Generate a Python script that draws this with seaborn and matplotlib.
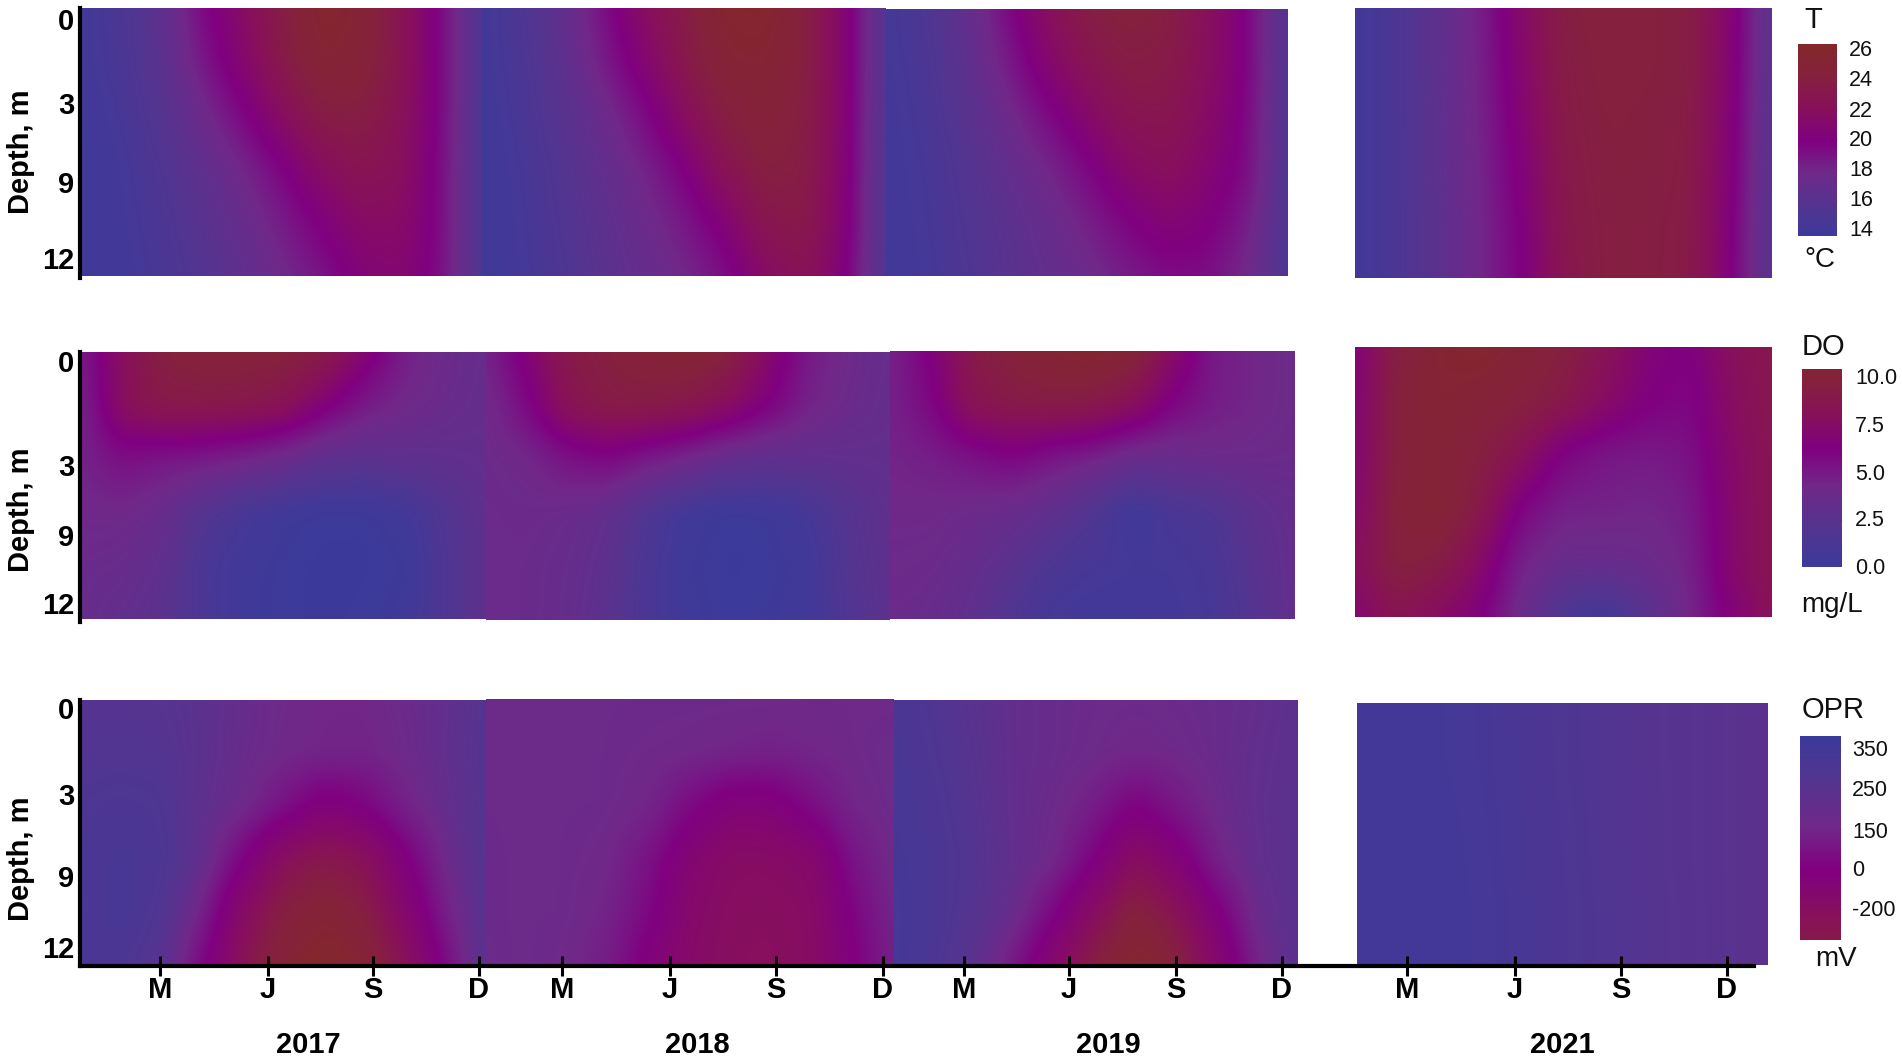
import numpy as np
import matplotlib
matplotlib.use("Agg")
import matplotlib.pyplot as plt
from matplotlib.colors import FuncNorm, LinearSegmentedColormap
import seaborn as sns

sns.set_theme(style="white")
plt.rcParams["font.family"] = ["Liberation Sans", "DejaVu Sans"]

# values: rows go down the depth, columns go through the year
T_2017 = [
    [14.2, 15.0, 16.5, 19.5, 21.6, 23.8, 26.0, 25.2, 22.8, 19.5, 15.2],
    [14.2, 14.9, 16.2, 18.8, 21.0, 23.4, 25.4, 24.9, 22.8, 19.5, 15.2],
    [14.1, 14.6, 15.8, 17.6, 19.6, 21.8, 23.8, 23.9, 22.5, 19.5, 15.1],
    [14.0, 14.4, 15.3, 16.6, 18.0, 19.8, 21.8, 22.9, 22.1, 19.4, 15.0],
    [14.0, 14.3, 15.0, 16.0, 17.2, 18.6, 20.2, 21.6, 21.6, 19.4, 15.0],
    [14.0, 14.2, 14.8, 15.6, 16.6, 17.8, 19.0, 20.6, 21.0, 19.3, 15.0],
]
T_2018 = [
    [14.2, 15.2, 16.8, 19.2, 21.8, 23.6, 25.8, 26.0, 24.2, 20.8, 15.5],
    [14.2, 15.0, 16.4, 18.6, 20.8, 23.2, 25.2, 25.4, 24.2, 20.8, 15.5],
    [14.1, 14.8, 16.0, 17.5, 19.4, 21.8, 24.0, 25.0, 24.0, 20.8, 15.4],
    [14.0, 14.6, 15.6, 16.8, 18.2, 20.0, 22.6, 24.2, 23.8, 20.7, 15.3],
    [14.0, 14.5, 15.4, 16.4, 17.5, 18.8, 20.6, 23.0, 23.4, 20.6, 15.3],
    [14.0, 14.4, 15.2, 16.2, 17.0, 18.0, 19.2, 21.6, 22.6, 20.2, 15.2],
]
T_2019 = [
    [14.4, 15.2, 16.8, 19.4, 22.0, 23.8, 24.5, 24.0, 22.2, 19.8, 15.5],
    [14.3, 15.0, 16.4, 18.6, 21.0, 22.8, 23.8, 23.6, 22.0, 19.8, 15.4],
    [14.2, 14.8, 16.0, 17.6, 19.4, 21.2, 22.8, 23.0, 21.6, 19.6, 15.3],
    [14.2, 14.6, 15.6, 16.8, 18.0, 19.6, 21.4, 22.2, 21.0, 19.4, 15.2],
    [14.2, 14.5, 15.4, 16.2, 17.2, 18.4, 19.8, 20.8, 20.2, 18.6, 15.1],
    [14.2, 14.4, 15.2, 16.0, 16.8, 17.6, 18.6, 19.4, 19.4, 17.8, 15.0],
]
T_2021 = [
    [14.2, 15.0, 16.6, 18.4, 21.4, 24.0, 24.4, 24.2, 24.0, 21.0, 16.0],
    [14.2, 15.0, 16.6, 18.3, 21.2, 23.8, 24.3, 24.2, 24.0, 20.9, 16.0],
    [14.2, 15.0, 16.5, 18.2, 20.8, 23.6, 24.2, 24.1, 23.9, 20.7, 15.9],
    [14.2, 15.0, 16.5, 18.1, 20.4, 23.4, 24.1, 24.1, 23.8, 20.5, 15.9],
    [14.2, 15.0, 16.4, 18.0, 20.1, 23.2, 24.0, 24.0, 23.7, 20.3, 15.8],
    [14.2, 15.0, 16.4, 18.0, 19.9, 23.0, 24.0, 24.0, 23.6, 20.2, 15.8],
]

DO_2017 = [
    [5.0, 8.0, 9.6, 10.1, 10.1, 9.9, 9.2, 7.0, 4.8, 3.9, 3.4],
    [4.6, 8.0, 9.0, 9.0, 8.9, 8.4, 6.6, 5.0, 4.2, 3.7, 3.3],
    [4.6, 5.6, 5.2, 5.0, 4.5, 3.8, 2.8, 2.6, 2.9, 3.0, 3.2],
    [4.2, 4.2, 3.6, 2.0, 1.0, 0.4, 0.1, 0.1, 0.6, 1.8, 3.0],
    [3.8, 3.6, 3.0, 1.2, 0.5, 0.1, 0.0, 0.0, 0.2, 1.6, 2.9],
    [3.6, 3.2, 2.6, 1.3, 0.4, 0.1, 0.0, 0.1, 0.4, 1.6, 2.9],
]
DO_2018 = [
    [4.5, 6.8, 9.0, 9.6, 10.2, 10.6, 9.8, 7.4, 5.0, 4.0, 3.4],
    [4.0, 5.8, 8.4, 9.2, 9.2, 8.8, 7.8, 6.2, 4.6, 3.8, 3.3],
    [3.9, 4.3, 5.4, 5.9, 5.0, 4.2, 3.2, 2.9, 3.0, 3.1, 3.2],
    [3.8, 3.9, 3.7, 3.2, 1.6, 0.5, 0.1, 0.2, 0.9, 2.2, 3.0],
    [3.8, 3.8, 3.5, 2.8, 1.2, 0.3, 0.0, 0.1, 0.5, 2.0, 2.9],
    [3.8, 3.8, 3.4, 2.6, 1.2, 0.4, 0.1, 0.2, 0.6, 1.8, 2.8],
]
DO_2019 = [
    [4.6, 6.4, 9.0, 10.0, 10.6, 11.0, 10.4, 7.6, 5.0, 4.4, 3.9],
    [4.6, 5.9, 8.4, 9.0, 9.2, 9.0, 8.0, 6.0, 4.9, 4.4, 3.9],
    [4.5, 4.8, 5.4, 6.0, 5.2, 4.6, 3.6, 3.5, 3.9, 3.9, 3.8],
    [4.2, 4.2, 3.9, 3.6, 3.0, 1.8, 0.3, 1.2, 1.6, 2.8, 3.4],
    [4.0, 3.9, 3.4, 2.6, 1.4, 1.0, 0.8, 0.8, 1.1, 2.4, 3.4],
    [3.8, 3.6, 3.0, 1.6, 0.8, 0.5, 0.6, 0.7, 1.0, 2.0, 3.4],
]
DO_2021 = [
    [6.6, 9.6, 10.6, 11.0, 10.3, 9.6, 8.4, 6.8, 6.2, 8.0, 8.8],
    [6.8, 9.8, 10.6, 10.2, 9.8, 9.0, 7.6, 6.4, 5.9, 7.6, 8.8],
    [6.9, 9.8, 10.4, 9.6, 8.2, 6.0, 5.2, 5.0, 5.4, 7.4, 8.6],
    [7.2, 10.0, 10.6, 9.0, 6.0, 4.7, 4.6, 4.4, 4.9, 7.2, 8.6],
    [7.8, 9.8, 9.4, 7.5, 4.6, 3.6, 3.6, 3.8, 4.6, 7.2, 8.6],
    [7.0, 8.6, 7.6, 6.4, 3.8, 1.4, 0.4, 2.5, 4.3, 6.6, 8.2],
]

OPR_2017 = [
    [270, 270, 265, 240, 195, 165, 150, 150, 180, 215, 275],
    [280, 285, 280, 240, 190, 160, 145, 140, 170, 220, 280],
    [300, 310, 300, 230, 170, 70, -50, 10, 130, 205, 280],
    [310, 325, 310, 215, 10, -220, -300, -230, -20, 170, 275],
    [310, 330, 290, 130, -180, -350, -420, -350, -120, 120, 270],
    [310, 310, 260, 20, -260, -420, -500, -430, -250, 40, 270],
]
OPR_2018 = [
    [175, 170, 170, 170, 170, 170, 170, 170, 165, 165, 165],
    [175, 170, 170, 170, 165, 160, 145, 130, 150, 165, 175],
    [175, 170, 170, 170, 150, 40, -60, -50, 50, 150, 175],
    [180, 170, 170, 160, 70, -90, -170, -170, -130, 80, 170],
    [180, 170, 170, 140, 30, -130, -190, -200, -170, 20, 150],
    [185, 170, 165, 110, -40, -150, -200, -210, -170, -10, 130],
]
OPR_2019 = [
    [320, 290, 250, 210, 190, 175, 170, 180, 190, 210, 240],
    [325, 300, 260, 210, 190, 170, 155, 165, 190, 220, 240],
    [330, 310, 270, 210, 175, 110, 0, 90, 175, 225, 245],
    [335, 320, 280, 215, 160, 0, -200, -60, 130, 220, 250],
    [340, 320, 270, 190, 20, -200, -380, -250, -20, 190, 250],
    [340, 310, 240, 90, -150, -350, -480, -380, -130, 140, 250],
]
OPR_2021 = [
    [345, 350, 345, 335, 315, 300, 285, 270, 260, 250, 240],
    [345, 350, 345, 335, 318, 300, 285, 270, 260, 250, 240],
    [345, 350, 348, 338, 320, 302, 287, 272, 260, 250, 240],
    [345, 350, 350, 340, 322, 304, 288, 272, 260, 250, 240],
    [345, 350, 350, 342, 325, 306, 290, 274, 262, 250, 240],
    [345, 350, 350, 342, 325, 306, 290, 274, 262, 250, 240],
]

years = ["2017", "2018", "2019", "2021"]
months = ["M", "J", "S", "D"]
depth_labels = ["0", "3", "9", "12"]

T_ticks = ["26", "24", "22", "20", "18", "16", "14"]
DO_ticks = ["10.0", "7.5", "5.0", "2.5", "0.0"]
OPR_ticks = ["350", "250", "150", "0", "-200"]

cmap = LinearSegmentedColormap.from_list(
    "bpb",
    [
        (0.0, "#3b3a9a"),
        (0.17, "#553490"),
        (0.34, "#702888"),
        (0.5, "#800080"),
        (0.66, "#870f5c"),
        (0.83, "#85203f"),
        (1.0, "#83272a"),
    ],
)
# the redox scale runs the other way round
cmap_r = cmap.reversed()


def scale_norm(stops, levels):
    return FuncNorm(
        (lambda v: np.interp(v, stops, levels), lambda c: np.interp(c, levels, stops)),
        vmin=stops[0],
        vmax=stops[-1],
    )


T_norm = scale_norm([13.6, 26.4], [0, 1])
DO_norm = scale_norm([0, 6.3, 11.4], [0, 0.5, 1])
OPR_norm = scale_norm(
    [-500, -200, 0, 150, 250, 350, 385], [0, 0.35, 0.5, 0.65, 0.8, 0.947, 1]
)

W, H = 1902, 1063
fig = plt.figure(figsize=(W / 100, H / 100), dpi=100, facecolor="white")


def px_axes(x0, y0, x1, y1, **kw):
    return fig.add_axes([x0 / W, 1 - y1 / H, (x1 - x0) / W, (y1 - y0) / H], **kw)


def soften(line, half=14):
    # running mean, only to take the creases out of the display grid
    kernel = np.ones(2 * half + 1) / (2 * half + 1)
    return np.convolve(np.pad(line, half, mode="edge"), kernel, mode="valid")


def display_grid(values, height, width):
    # one cell per pixel for the panel, the colour ridge stays sharp this way
    values = np.array(values, dtype=float)
    across = np.linspace(0, values.shape[1] - 1, width)
    down = np.linspace(0, values.shape[0] - 1, height)
    grid = np.array([np.interp(across, np.arange(values.shape[1]), row) for row in values])
    grid = np.array([np.interp(down, np.arange(values.shape[0]), col) for col in grid.T]).T
    grid = np.apply_along_axis(soften, 0, grid)
    return np.apply_along_axis(soften, 1, grid)


def draw_field(box, values, norm, colors):
    ax = px_axes(*box)
    grid = display_grid(values, box[3] - box[1], box[2] - box[0])
    sns.heatmap(grid, ax=ax, cmap=colors, norm=norm, cbar=False, xticklabels=False, yticklabels=False)
    ax.axis("off")


# rows: data, norm, colours, panel boxes
rows = [
    (
        [T_2017, T_2018, T_2019, T_2021], T_norm, cmap,
        [(82, 8, 482, 276), (482, 8, 886, 276), (886, 9, 1288, 276), (1355, 8, 1772, 278)],
    ),
    (
        [DO_2017, DO_2018, DO_2019, DO_2021], DO_norm, cmap,
        [(82, 352, 486, 619), (486, 352, 890, 620), (890, 351, 1295, 619), (1355, 347, 1772, 617)],
    ),
    (
        [OPR_2017, OPR_2018, OPR_2019, OPR_2021], OPR_norm, cmap_r,
        [(82, 700, 486, 966), (486, 699, 894, 966), (894, 700, 1298, 966), (1357, 703, 1768, 965)],
    ),
]
for fields, norm, colors, boxes in rows:
    for field, box in zip(fields, boxes):
        draw_field(box, field, norm, colors)

# left axes, one host per row, in pixel units
hosts = [(8, 278, [19, 103, 182, 258], 152), (352, 622, [361, 465, 535, 603], 510), (700, 966, [708, 794, 876, 947], 859)]
for top, bottom, tick_y, label_y in hosts:
    host = px_axes(80, top, 1754, bottom, facecolor="none")
    host.set_xlim(80, 1754)
    host.set_ylim(bottom, top)
    for side in ["top", "right", "bottom"]:
        host.spines[side].set_visible(False)
    host.spines["left"].set_linewidth(3)
    host.spines["left"].set_color("black")
    host.set_yticks(tick_y, depth_labels, fontsize=21, fontweight="bold")
    host.tick_params(axis="y", length=0, pad=4, colors="black")
    host.set_xticks([])
    fig.text(
        21 / W, 1 - label_y / H, "Depth, m", rotation=90, ha="center", va="center",
        fontsize=21, fontweight="bold", color="black",
    )

# bottom axis with the month ticks
tick_x = [160, 268, 373, 479, 562, 670, 776, 883, 964, 1069, 1176, 1282, 1407, 1515, 1621, 1727]
host.spines["bottom"].set_visible(True)
host.spines["bottom"].set_linewidth(3)
host.spines["bottom"].set_color("black")
host.set_xticks(tick_x, months * 4, fontsize=21, fontweight="bold")
host.tick_params(axis="x", direction="inout", length=15, width=2.2, pad=0, colors="black", bottom=True)
for year, year_x in zip(years, [308, 697, 1108, 1562]):
    host.text(year_x, 1045, year, ha="center", va="center", fontsize=21, fontweight="bold", color="black")


def draw_bar(box, norm, colors, tick_px, tick_vals, end_vals, tick_text, label_x, label_y, title, title_pos, unit, unit_pos):
    x0, top, x1, bottom = box
    ax = px_axes(*box)
    rows_px = np.arange(top, bottom)
    knots_px = [top] + tick_px + [bottom]
    knots_val = [end_vals[0]] + tick_vals + [end_vals[1]]
    ramp = np.interp(rows_px, knots_px, knots_val)
    sns.heatmap(
        ramp.reshape(-1, 1), ax=ax, cmap=colors, norm=norm, cbar=False,
        xticklabels=False, yticklabels=False,
    )
    ax.set_xticks([])
    ax.set_yticks([p - top for p in tick_px], [""] * len(tick_px))
    ax.tick_params(axis="y", left=True, right=True, direction="in", length=5, width=1, color="#ecd0ec")
    for text, y in zip(tick_text, label_y):
        fig.text(label_x / W, 1 - y / H, text, ha="left", va="center", fontsize=15.5, color="#111111")
    fig.text(title_pos[0] / W, 1 - title_pos[1] / H, title, ha="center", va="center", fontsize=21, color="#111111")
    fig.text(unit_pos[0] / W, 1 - unit_pos[1] / H, unit, ha="center", va="center", fontsize=20, color="#111111")


draw_bar(
    (1798, 44, 1837, 236), T_norm, cmap, [50, 80, 110, 140, 170, 200, 230],
    [26.0, 24.0, 22.0, 20.0, 18.0, 16.0, 14.0], (26.4, 13.6), T_ticks,
    1849, [51, 81, 111, 141, 171, 201, 231], "T", (1813, 20), "°C", (1820, 260),
)
draw_bar(
    (1802, 369, 1842, 567), DO_norm, cmap, [378, 425, 473, 520],
    [10.0, 7.5, 5.0, 2.5], (10.4, 0.0), DO_ticks,
    1855, [379, 427, 474, 521, 569], "DO", (1823, 347), "mg/L", (1832, 605),
)
draw_bar(
    (1800, 736, 1841, 940), OPR_norm, cmap_r, [750, 789, 829, 869, 909],
    [350, 250, 150, 0, -200], (385, -300), OPR_ticks,
    1852, [751, 791, 832, 871, 910], "OPR", (1833, 710), "mV", (1836, 959),
)

fig.savefig("out.png", dpi=100, facecolor="white")
